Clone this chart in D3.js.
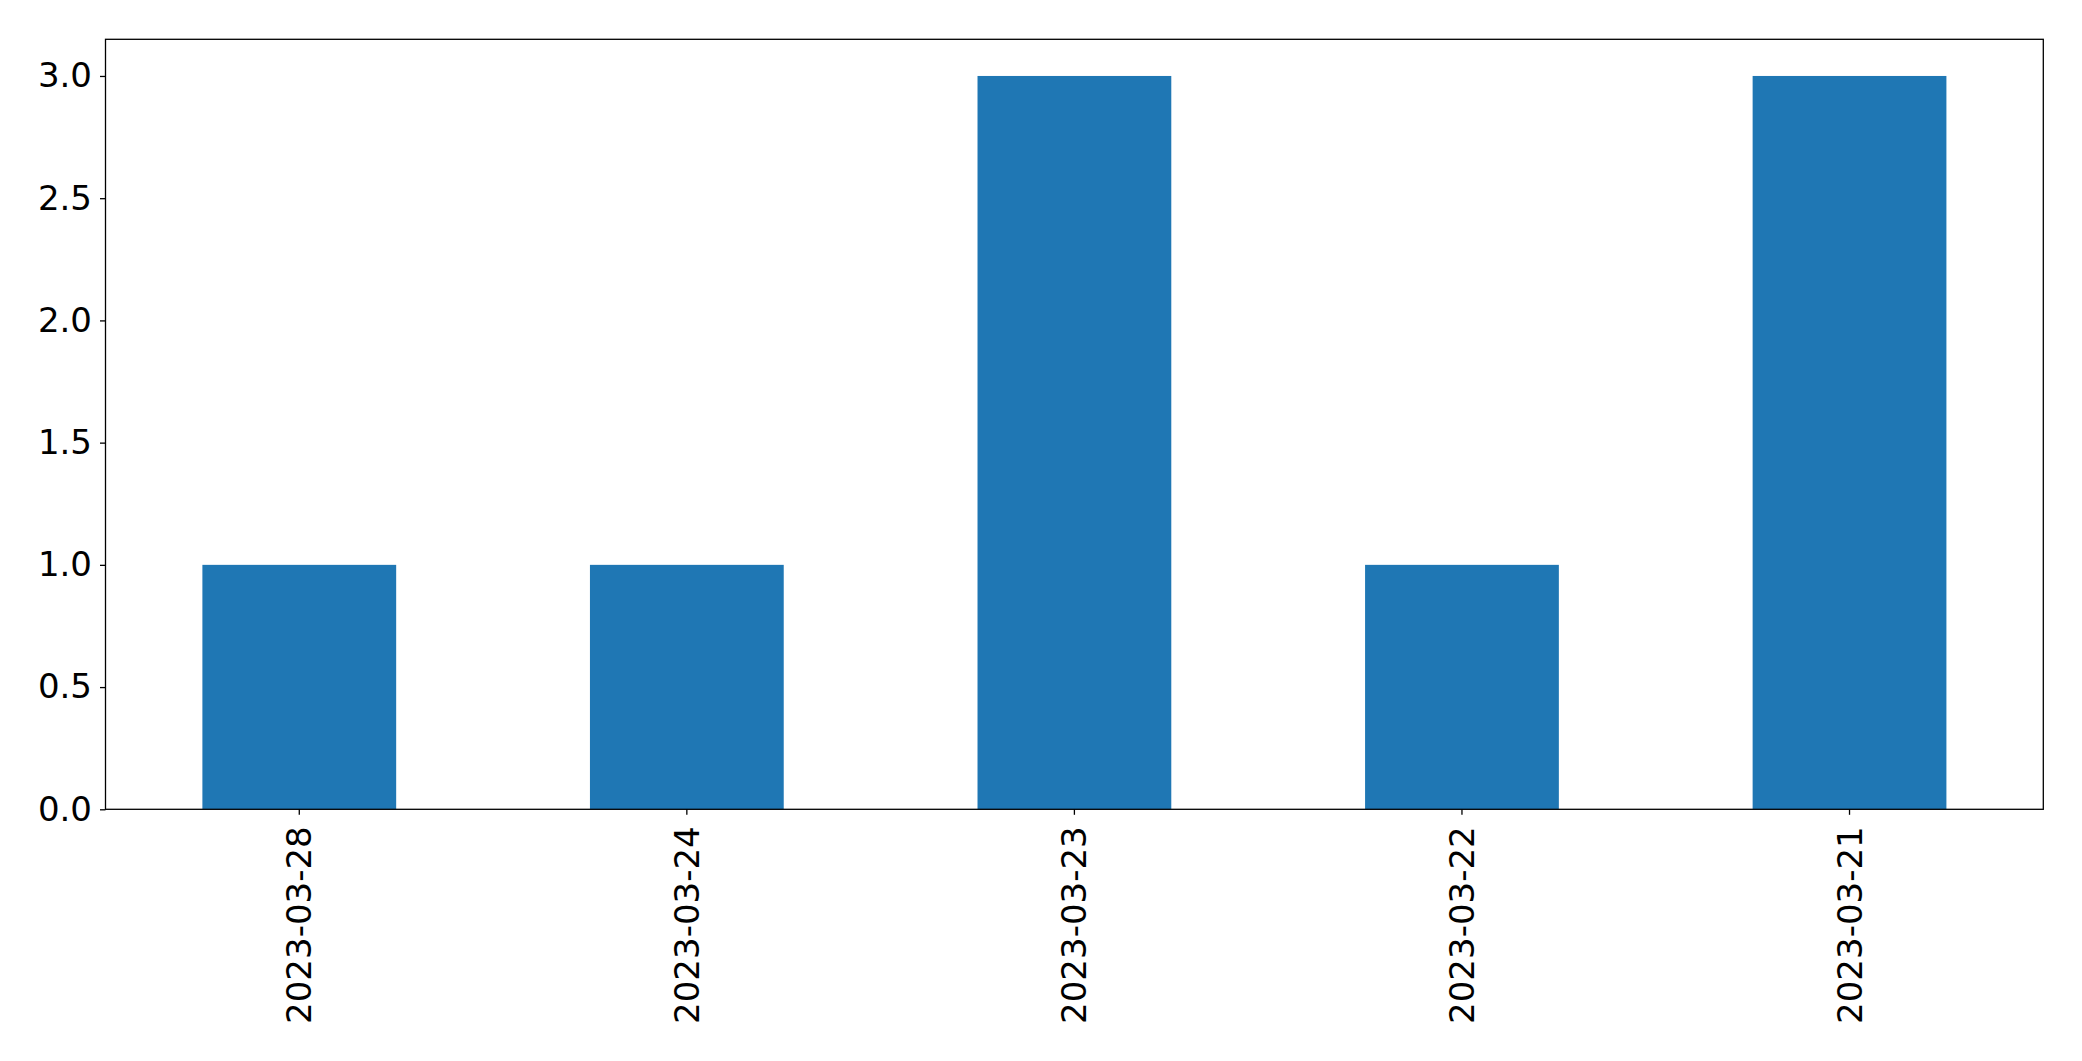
<!DOCTYPE html>
<html>
<head>
<meta charset="utf-8">
<script src="https://cdn.jsdelivr.net/npm/d3@7"></script>
<style>
  html, body { margin: 0; padding: 0; background: #fff; }
  svg { display: block; }
</style>
</head>
<body>
<svg id="chart" width="2082" height="1061"></svg>
<script>
const categories = ["2023-03-28", "2023-03-24", "2023-03-23", "2023-03-22", "2023-03-21"];
const values = [1, 1, 3, 1, 3];
const yTicks = [0, 0.5, 1.0, 1.5, 2.0, 2.5, 3.0];

const W = 2082, H = 1061;
const margin = { left: 105.5, right: W - 2043.3, top: 39.3, bottom: H - 809.3 };
const svg = d3.select("#chart");
const iw = W - margin.left - margin.right;
const ih = H - margin.top - margin.bottom;
const g = svg.append("g").attr("transform", `translate(${margin.left},${margin.top})`);

const x = d3.scaleBand().domain(categories).range([0, iw]).paddingInner(0.5).paddingOuter(0.25);
const y = d3.scaleLinear().domain([0, 3.15]).range([ih, 0]);

g.selectAll("rect.bar").data(values).join("rect")
  .attr("class", "bar")
  .attr("x", (d, i) => x(categories[i]))
  .attr("y", d => y(d))
  .attr("width", x.bandwidth())
  .attr("height", d => y(0) - y(d))
  .attr("fill", "#1f77b4");

const font = "'DejaVu Sans', sans-serif";
const fs = 34;

const yAxis = g.append("g").call(d3.axisLeft(y).tickValues(yTicks).tickFormat(d3.format(".1f")).tickSize(5.5).tickPadding(8));
yAxis.select(".domain").remove();
yAxis.selectAll("text").attr("font-family", font).attr("font-size", fs).attr("fill", "#000");
yAxis.selectAll("line").attr("stroke", "#000").attr("stroke-width", 1.3);

const xAxis = g.append("g").attr("transform", `translate(0,${ih})`).call(d3.axisBottom(x).tickSize(5.5).tickPadding(0));
xAxis.select(".domain").remove();
xAxis.selectAll("line").attr("stroke", "#000").attr("stroke-width", 1.3);
xAxis.selectAll("text")
  .attr("font-family", font).attr("font-size", fs).attr("fill", "#000")
  .attr("text-anchor", "end")
  .attr("dy", null)
  .attr("y", 0)
  .attr("transform", "translate(0,17) rotate(-90)")
  .attr("dominant-baseline", "central");

g.append("rect").attr("x", 0).attr("y", 0).attr("width", iw).attr("height", ih)
  .attr("fill", "none").attr("stroke", "#000").attr("stroke-width", 1.3);
</script>
</body>
</html>
